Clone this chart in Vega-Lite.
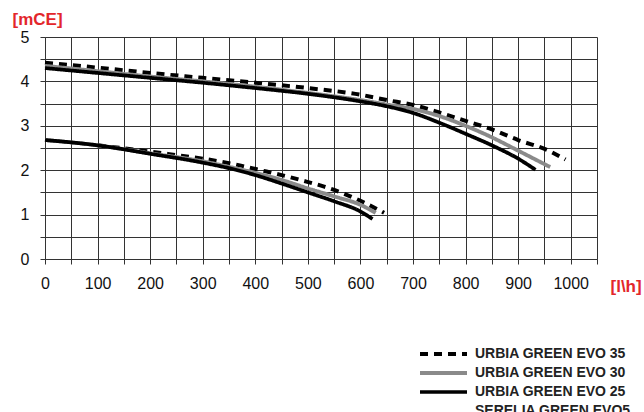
{
  "$schema": "https://vega.github.io/schema/vega-lite/v6.json",
  "width": 552,
  "height": 222,
  "autosize": {"type": "none"},
  "padding": {"left": 45, "top": 37, "right": 47, "bottom": 153},
  "background": "white",
  "config": {
    "view": {"stroke": null},
    "font": "Liberation Sans"
  },
  "data": {
    "values": [
      {"series": "URBIA GREEN EVO 35", "curve": "high", "q": 0, "h": 4.42},
      {"series": "URBIA GREEN EVO 35", "curve": "high", "q": 100, "h": 4.31},
      {"series": "URBIA GREEN EVO 35", "curve": "high", "q": 200, "h": 4.19},
      {"series": "URBIA GREEN EVO 35", "curve": "high", "q": 300, "h": 4.08},
      {"series": "URBIA GREEN EVO 35", "curve": "high", "q": 400, "h": 3.97},
      {"series": "URBIA GREEN EVO 35", "curve": "high", "q": 500, "h": 3.85},
      {"series": "URBIA GREEN EVO 35", "curve": "high", "q": 600, "h": 3.70},
      {"series": "URBIA GREEN EVO 35", "curve": "high", "q": 650, "h": 3.58},
      {"series": "URBIA GREEN EVO 35", "curve": "high", "q": 700, "h": 3.47},
      {"series": "URBIA GREEN EVO 35", "curve": "high", "q": 750, "h": 3.30},
      {"series": "URBIA GREEN EVO 35", "curve": "high", "q": 800, "h": 3.11},
      {"series": "URBIA GREEN EVO 35", "curve": "high", "q": 850, "h": 2.92},
      {"series": "URBIA GREEN EVO 35", "curve": "high", "q": 900, "h": 2.68},
      {"series": "URBIA GREEN EVO 35", "curve": "high", "q": 958, "h": 2.44},
      {"series": "URBIA GREEN EVO 35", "curve": "high", "q": 990, "h": 2.24},
      {"series": "URBIA GREEN EVO 30", "curve": "high", "q": 0, "h": 4.35},
      {"series": "URBIA GREEN EVO 30", "curve": "high", "q": 100, "h": 4.23},
      {"series": "URBIA GREEN EVO 30", "curve": "high", "q": 200, "h": 4.11},
      {"series": "URBIA GREEN EVO 30", "curve": "high", "q": 300, "h": 4.0},
      {"series": "URBIA GREEN EVO 30", "curve": "high", "q": 400, "h": 3.88},
      {"series": "URBIA GREEN EVO 30", "curve": "high", "q": 500, "h": 3.74},
      {"series": "URBIA GREEN EVO 30", "curve": "high", "q": 600, "h": 3.58},
      {"series": "URBIA GREEN EVO 30", "curve": "high", "q": 650, "h": 3.48},
      {"series": "URBIA GREEN EVO 30", "curve": "high", "q": 700, "h": 3.38},
      {"series": "URBIA GREEN EVO 30", "curve": "high", "q": 750, "h": 3.22},
      {"series": "URBIA GREEN EVO 30", "curve": "high", "q": 800, "h": 3.0},
      {"series": "URBIA GREEN EVO 30", "curve": "high", "q": 850, "h": 2.74},
      {"series": "URBIA GREEN EVO 30", "curve": "high", "q": 900, "h": 2.44},
      {"series": "URBIA GREEN EVO 30", "curve": "high", "q": 961, "h": 2.07},
      {"series": "URBIA GREEN EVO 25", "curve": "high", "q": 0, "h": 4.3},
      {"series": "URBIA GREEN EVO 25", "curve": "high", "q": 100, "h": 4.19},
      {"series": "URBIA GREEN EVO 25", "curve": "high", "q": 200, "h": 4.08},
      {"series": "URBIA GREEN EVO 25", "curve": "high", "q": 300, "h": 3.97},
      {"series": "URBIA GREEN EVO 25", "curve": "high", "q": 400, "h": 3.85},
      {"series": "URBIA GREEN EVO 25", "curve": "high", "q": 500, "h": 3.72},
      {"series": "URBIA GREEN EVO 25", "curve": "high", "q": 600, "h": 3.55},
      {"series": "URBIA GREEN EVO 25", "curve": "high", "q": 650, "h": 3.44},
      {"series": "URBIA GREEN EVO 25", "curve": "high", "q": 700, "h": 3.29},
      {"series": "URBIA GREEN EVO 25", "curve": "high", "q": 750, "h": 3.07},
      {"series": "URBIA GREEN EVO 25", "curve": "high", "q": 800, "h": 2.82},
      {"series": "URBIA GREEN EVO 25", "curve": "high", "q": 850, "h": 2.56},
      {"series": "URBIA GREEN EVO 25", "curve": "high", "q": 900, "h": 2.26},
      {"series": "URBIA GREEN EVO 25", "curve": "high", "q": 933, "h": 2.01},
      {"series": "URBIA GREEN EVO 35", "curve": "low", "q": 100, "h": 2.56},
      {"series": "URBIA GREEN EVO 35", "curve": "low", "q": 200, "h": 2.42},
      {"series": "URBIA GREEN EVO 35", "curve": "low", "q": 250, "h": 2.34},
      {"series": "URBIA GREEN EVO 35", "curve": "low", "q": 300, "h": 2.26},
      {"series": "URBIA GREEN EVO 35", "curve": "low", "q": 362, "h": 2.13},
      {"series": "URBIA GREEN EVO 35", "curve": "low", "q": 410, "h": 2.0},
      {"series": "URBIA GREEN EVO 35", "curve": "low", "q": 450, "h": 1.89},
      {"series": "URBIA GREEN EVO 35", "curve": "low", "q": 489, "h": 1.77},
      {"series": "URBIA GREEN EVO 35", "curve": "low", "q": 531, "h": 1.63},
      {"series": "URBIA GREEN EVO 35", "curve": "low", "q": 569, "h": 1.47},
      {"series": "URBIA GREEN EVO 35", "curve": "low", "q": 607, "h": 1.27},
      {"series": "URBIA GREEN EVO 35", "curve": "low", "q": 645, "h": 1.04},
      {"series": "URBIA GREEN EVO 30", "curve": "low", "q": 0, "h": 2.68},
      {"series": "URBIA GREEN EVO 30", "curve": "low", "q": 100, "h": 2.56},
      {"series": "URBIA GREEN EVO 30", "curve": "low", "q": 200, "h": 2.38},
      {"series": "URBIA GREEN EVO 30", "curve": "low", "q": 300, "h": 2.2},
      {"series": "URBIA GREEN EVO 30", "curve": "low", "q": 352, "h": 2.07},
      {"series": "URBIA GREEN EVO 30", "curve": "low", "q": 400, "h": 1.94},
      {"series": "URBIA GREEN EVO 30", "curve": "low", "q": 450, "h": 1.78},
      {"series": "URBIA GREEN EVO 30", "curve": "low", "q": 500, "h": 1.59},
      {"series": "URBIA GREEN EVO 30", "curve": "low", "q": 550, "h": 1.41},
      {"series": "URBIA GREEN EVO 30", "curve": "low", "q": 600, "h": 1.22},
      {"series": "URBIA GREEN EVO 30", "curve": "low", "q": 629, "h": 1.04},
      {"series": "URBIA GREEN EVO 25", "curve": "low", "q": 0, "h": 2.68},
      {"series": "URBIA GREEN EVO 25", "curve": "low", "q": 100, "h": 2.56},
      {"series": "URBIA GREEN EVO 25", "curve": "low", "q": 200, "h": 2.37},
      {"series": "URBIA GREEN EVO 25", "curve": "low", "q": 300, "h": 2.17},
      {"series": "URBIA GREEN EVO 25", "curve": "low", "q": 352, "h": 2.04},
      {"series": "URBIA GREEN EVO 25", "curve": "low", "q": 400, "h": 1.89},
      {"series": "URBIA GREEN EVO 25", "curve": "low", "q": 450, "h": 1.70},
      {"series": "URBIA GREEN EVO 25", "curve": "low", "q": 500, "h": 1.50},
      {"series": "URBIA GREEN EVO 25", "curve": "low", "q": 550, "h": 1.30},
      {"series": "URBIA GREEN EVO 25", "curve": "low", "q": 600, "h": 1.07},
      {"series": "URBIA GREEN EVO 25", "curve": "low", "q": 623, "h": 0.90}
    ]
  },
  "mark": {"type": "line", "interpolate": "monotone", "strokeCap": "butt"},
  "encoding": {
    "x": {
      "field": "q", "type": "quantitative",
      "scale": {"domain": [0, 1050], "nice": false, "zero": false},
      "axis": {
        "title": "[l\\h]",
        "titleColor": "#e3262b", "titleFont": "Liberation Sans", "titleFontSize": 17, "titleFontWeight": "bold",
        "titleX": 565, "titleY": 27, "titleAlign": "left", "titleBaseline": "middle", "titleAnchor": null,
        "values": [0,50,100,150,200,250,300,350,400,450,500,550,600,650,700,750,800,850,900,950,1000,1050],
        "labelExpr": "datum.value % 100 === 0 && datum.value <= 1000 ? format(datum.value, 'd') : ''",
        "labelFont": "Liberation Sans", "labelFontSize": 16, "labelColor": "#111",
        "labelPadding": 11, "labelFlush": false, "labelOverlap": false,
        "tickSize": 5, "tickColor": "#333",
        "grid": true, "gridColor": "#333", "gridWidth": 1, "gridOpacity": 1,
        "domain": true, "domainColor": "#333"
      }
    },
    "y": {
      "field": "h", "type": "quantitative",
      "scale": {"domain": [0, 5], "nice": false},
      "axis": {
        "title": "[mCE]",
        "titleColor": "#e3262b", "titleFont": "Liberation Sans", "titleFontSize": 17, "titleFontWeight": "bold",
        "titleAngle": 0, "titleX": -33, "titleY": -18, "titleAlign": "left", "titleBaseline": "middle", "titleAnchor": null,
        "values": [0,0.5,1,1.5,2,2.5,3,3.5,4,4.5,5],
        "labelExpr": "datum.value % 1 === 0 ? format(datum.value, 'd') : ''",
        "labelFont": "Liberation Sans", "labelFontSize": 16, "labelColor": "#111",
        "labelPadding": 11, "labelFlush": false, "labelOverlap": false,
        "tickSize": 5, "tickColor": "#333",
        "grid": true, "gridColor": "#333", "gridWidth": 1, "gridOpacity": 1,
        "domain": true, "domainColor": "#333"
      }
    },
    "detail": {"field": "curve"},
    "color": {
      "field": "series", "type": "nominal",
      "scale": {
        "domain": ["URBIA GREEN EVO 35", "URBIA GREEN EVO 30", "URBIA GREEN EVO 25", "SERELIA GREEN EVO5"],
        "range": ["#000000", "#8a8a8a", "#000000", "#ffffff"]
      },
      "legend": {
        "title": null,
        "orient": "none", "legendX": 368, "legendY": 310,
        "symbolType": "M0,0H9.4", "symbolSize": 100,
        "labelFont": "Liberation Sans", "labelFontSize": 14, "labelFontWeight": "bold", "labelColor": "#222",
        "labelOffset": 48, "rowPadding": 3, "labelLimit": 300
      }
    },
    "strokeDash": {
      "field": "series", "type": "nominal",
      "scale": {
        "domain": ["URBIA GREEN EVO 35", "URBIA GREEN EVO 30", "URBIA GREEN EVO 25", "SERELIA GREEN EVO5"],
        "range": [[8, 6], [1, 0], [1, 0], [1, 0]]
      },
      "legend": null
    },
    "strokeWidth": {
      "field": "series", "type": "nominal",
      "scale": {
        "domain": ["URBIA GREEN EVO 35", "URBIA GREEN EVO 30", "URBIA GREEN EVO 25", "SERELIA GREEN EVO5"],
        "range": [4, 3.6, 3, 3]
      },
      "legend": null
    }
  }
}
